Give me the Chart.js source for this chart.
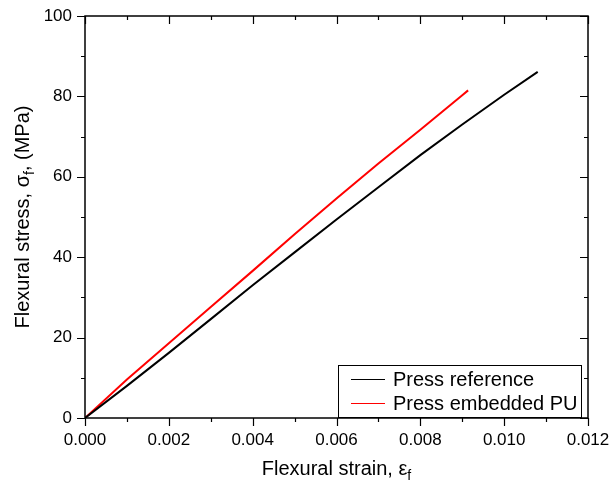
<!DOCTYPE html>
<html>
<head>
<meta charset="utf-8">
<script src="https://cdn.jsdelivr.net/npm/chart.js@4"></script>
<style>
  html, body { margin: 0; padding: 0; background: #fff; }
  #wrap { width: 611px; height: 483px; }
</style>
</head>
<body>
<div id="wrap"><canvas id="flexChart" width="611" height="483"></canvas></div>
<script>
// flexural strain / stress
const strainRef = [0, 0.001, 0.002, 0.003, 0.004, 0.005, 0.006, 0.007, 0.008, 0.009, 0.010, 0.0108];
const stressRef = [0, 8.0, 16.2, 24.6, 33.0, 41.2, 49.4, 57.4, 65.4, 73.0, 80.4, 86.1];
const strainPU = [0, 0.001, 0.002, 0.003, 0.004, 0.005, 0.006, 0.007, 0.008, 0.009, 0.00914];
const stressPU = [0, 9.6, 18.6, 27.6, 36.6, 45.7, 54.6, 63.3, 71.7, 80.3, 81.5];
const seriesNames = ['Press reference', 'Press embedded PU'];
const seriesColors = ['#000000', '#ff0000'];
const xTickStep = 0.002;
const yTickStep = 20;

const FONT = '"Liberation Sans", Arial, sans-serif';

function toPoints(xs, ys) {
    return xs.map((x, i) => ({ x: x, y: ys[i] }));
}

// cadre + graduations (majeures / mineures) sur les 4 côtés
const frameTicks = {
    id: 'frameTicks',
    afterDraw(chart) {
        const ctx = chart.ctx;
        const a = chart.chartArea;
        const xs = chart.scales.x;
        const ys = chart.scales.y;
        ctx.save();
        ctx.strokeStyle = '#000';
        ctx.lineWidth = 1.5;
        ctx.strokeRect(a.left, a.top, a.right - a.left, a.bottom - a.top);
        ctx.lineWidth = 1.2;
        ctx.beginPath();
        for (let v = 0; v <= xs.max + 1e-9; v += xTickStep / 2) {
            const major = Math.abs(Math.round(v / xTickStep) * xTickStep - v) < 1e-9;
            const len = major ? 8 : 4;
            const px = Math.round(xs.getPixelForValue(v)) + 0.5;
            ctx.moveTo(px, a.bottom); ctx.lineTo(px, a.bottom + len);
            ctx.moveTo(px, a.top); ctx.lineTo(px, a.top + len);
        }
        for (let v = 0; v <= ys.max + 1e-9; v += yTickStep / 2) {
            const major = Math.abs(Math.round(v / yTickStep) * yTickStep - v) < 1e-9;
            const len = major ? 8 : 4;
            const py = Math.round(ys.getPixelForValue(v)) + 0.5;
            ctx.moveTo(a.left, py); ctx.lineTo(a.left - len, py);
            ctx.moveTo(a.right, py); ctx.lineTo(a.right - len, py);
        }
        ctx.stroke();
        ctx.restore();
    }
};

// titres des axes avec indice "f"
function drawSubTitle(ctx, parts, cx, cy) {
    const mainFont = '20px ' + FONT;
    const subFont = '14px ' + FONT;
    let total = 0;
    parts.forEach(p => {
        ctx.font = p.sub ? subFont : mainFont;
        p.w = ctx.measureText(p.text).width;
        total += p.w;
    });
    let x = cx - total / 2;
    ctx.textBaseline = 'alphabetic';
    ctx.textAlign = 'left';
    parts.forEach(p => {
        ctx.font = p.sub ? subFont : mainFont;
        ctx.fillText(p.text, x, cy + (p.sub ? 5 : 0));
        x += p.w;
    });
}

const axisTitles = {
    id: 'axisTitles',
    afterDraw(chart) {
        const ctx = chart.ctx;
        const a = chart.chartArea;
        ctx.save();
        ctx.fillStyle = '#000';
        drawSubTitle(ctx, [
            { text: 'Flexural strain, \u03b5' },
            { text: 'f', sub: true }
        ], (a.left + a.right) / 2, 475);
        ctx.translate(29, (a.top + a.bottom) / 2);
        ctx.rotate(-Math.PI / 2);
        drawSubTitle(ctx, [
            { text: 'Flexural stress, \u03c3' },
            { text: 'f', sub: true },
            { text: ', (MPa)' }
        ], 0, 0);
        ctx.restore();
    }
};

// légende encadrée en bas à droite
const boxLegend = {
    id: 'boxLegend',
    afterDraw(chart) {
        const ctx = chart.ctx;
        const a = chart.chartArea;
        const left = 338, top = 365, right = a.right - 7, bottom = a.bottom;
        ctx.save();
        ctx.fillStyle = '#fff';
        ctx.fillRect(left, top, right - left, bottom - top);
        ctx.strokeStyle = '#000';
        ctx.lineWidth = 1;
        ctx.strokeRect(left + 0.5, top + 0.5, right - left, bottom - top - 1);
        ctx.font = '20px ' + FONT;
        ctx.textBaseline = 'middle';
        ctx.textAlign = 'left';
        chart.data.datasets.forEach((ds, i) => {
            const y = top + 14 + i * 24;
            ctx.strokeStyle = ds.borderColor;
            ctx.lineWidth = 1;
            ctx.beginPath();
            ctx.moveTo(left + 13, Math.round(y) + 0.5);
            ctx.lineTo(left + 47, Math.round(y) + 0.5);
            ctx.stroke();
            ctx.fillStyle = '#000';
            ctx.fillText(ds.label, left + 55, y + 1);
        });
        ctx.restore();
    }
};

const ctx = document.getElementById('flexChart').getContext('2d');
new Chart(ctx, {
    type: 'scatter',
    data: {
        datasets: [
            {
                label: seriesNames[0],
                data: toPoints(strainRef, stressRef),
                borderColor: seriesColors[0],
                backgroundColor: seriesColors[0],
                showLine: true,
                borderWidth: 2,
                pointRadius: 0,
                tension: 0
            },
            {
                label: seriesNames[1],
                data: toPoints(strainPU, stressPU),
                borderColor: seriesColors[1],
                backgroundColor: seriesColors[1],
                showLine: true,
                borderWidth: 2,
                pointRadius: 0,
                tension: 0
            }
        ]
    },
    options: {
        responsive: false,
        animation: false,
        devicePixelRatio: 1,
        layout: { padding: { top: 16, right: 23, left: 0, bottom: 0 } },
        plugins: {
            legend: { display: false },
            tooltip: { enabled: false }
        },
        scales: {
            x: {
                type: 'linear',
                min: 0,
                max: 0.012,
                grid: { display: false, drawTicks: false },
                border: { display: false },
                ticks: {
                    stepSize: xTickStep,
                    padding: 12,
                    color: '#000',
                    font: { family: FONT, size: 17 },
                    maxRotation: 0,
                    callback: v => v.toFixed(3)
                },
                afterFit: s => { s.height = 65; s.paddingLeft = 0; s.paddingRight = 0; }
            },
            y: {
                type: 'linear',
                min: 0,
                max: 100,
                grid: { display: false, drawTicks: false },
                border: { display: false },
                ticks: {
                    stepSize: yTickStep,
                    padding: 13,
                    color: '#000',
                    font: { family: FONT, size: 17 }
                },
                afterFit: s => { s.width = 85; s.paddingTop = 0; s.paddingBottom = 0; }
            }
        }
    },
    plugins: [frameTicks, axisTitles, boxLegend]
});
</script>
</body>
</html>
